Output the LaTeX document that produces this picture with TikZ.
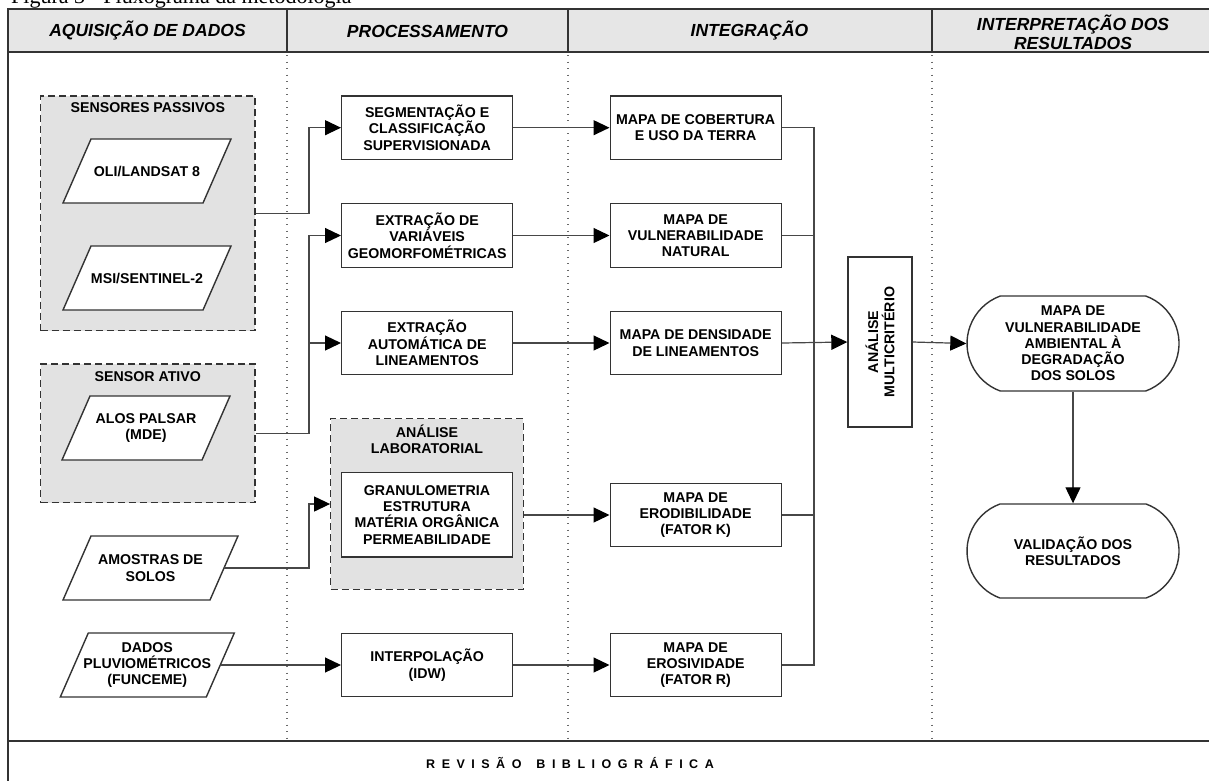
\documentclass[tikz,border=0pt]{standalone}
\usepackage{fontspec}
\setmainfont{Liberation Sans}
\newfontfamily\serifcap{Liberation Serif}
\usetikzlibrary{arrows.meta,calc,shapes.misc}
\definecolor{hdr}{HTML}{E6E6E6}
\definecolor{grp}{HTML}{E2E2E2}
\definecolor{linec}{HTML}{333333}
\definecolor{connc}{HTML}{474747}
\definecolor{dotc}{HTML}{6A6A6A}
\newcommand\lsp{\hspace{6.5pt}}
\newcommand\paranode[5]{% name, x, y, halfwidth, text
  \draw[parashape] (#2-#4+14,#3-32) -- (#2+#4+14,#3-32) -- (#2+#4-14,#3+32) -- (#2-#4-14,#3+32) -- cycle;
  \node[lbl, minimum width={2*#4pt}, minimum height=64pt] (#1) at (#2,#3) {#5};}
\tikzset{
  lbl/.style={font=\bfseries\fontsize{14.2}{16.3}\selectfont, align=center, text=black, inner sep=0pt},
  box/.style={lbl, draw=linec, line width=1.4pt, fill=white, minimum width=171pt, minimum height=63.5pt},
  parashape/.style={draw=linec, line width=1.4pt, fill=white, line join=miter},
  group/.style={draw=linec, line width=1.2pt, dash pattern=on 7pt off 4pt, fill=grp},
  stad/.style={lbl, draw=linec, line width=1.4pt, fill=white, shape=rounded rectangle, rounded rectangle arc length=140, minimum width=212pt, minimum height=95pt},
  hdrtxt/.style={font=\bfseries\itshape\fontsize{17.5}{19}\selectfont, align=center, inner sep=0pt},
  frame/.style={draw=linec, line width=1.4pt},
  dotline/.style={draw=dotc, line width=1.3pt, dash pattern=on 1.3pt off 5.2pt},
  conn/.style={draw=connc, line width=1.2pt},
  arr/.style={conn, -{Triangle[length=16pt,width=15pt,color=black]}},
}
\begin{document}
\begin{tikzpicture}[x=1pt,y=-1pt]
\useasboundingbox (0,0) rectangle (1209,780);
\clip (0,0) rectangle (1209,780);
% caption (cut off at the top, as in the source)
\node[anchor=base west, font=\serifcap\fontsize{22}{24}\selectfont, inner sep=0pt] (cap) at (11,3) {Figura 3 - Fluxograma da metodologia};
% header and frame
\fill[hdr] (8,9) rectangle (1215,52);
\draw[frame] (1215,9) -- (8,9) -- (8,790);
\draw[frame] (8,52) -- (1215,52);
\draw[frame] (8,741) -- (1215,741);
\foreach \x in {287,568,932} {
  \draw[frame] (\x,9) -- (\x,52);
  \draw[dotline] (\x,55) -- (\x,741);
}
\node[hdrtxt] (h1) at (147.5,31) {AQUISIÇÃO DE DADOS};
\node[hdrtxt] (h2) at (427.5,31) {PROCESSAMENTO};
\node[hdrtxt] (h3) at (749.5,31) {INTEGRAÇÃO};
\node[hdrtxt] (h4) at (1073,32) {INTERPRETAÇÃO DOS\\RESULTADOS};
\node[font=\bfseries\fontsize{12.5}{14}\selectfont, inner sep=0pt] (rev) at (570,763)
  {R\lsp E\lsp V\lsp I\lsp S\lsp Ã\lsp O\hspace{15pt}B\lsp I\lsp B\lsp L\lsp I\lsp O\lsp G\lsp R\lsp Á\lsp F\lsp I\lsp C\lsp A};
% acquisition groups
\node[group, minimum width=214.3pt, minimum height=234.7pt] (sp) at (147.8,213.3) {};
\node[lbl] (spl) at (147.8,108) {SENSORES PASSIVOS};
\paranode{oli}{147}{171}{70}{OLI/LANDSAT 8}
\paranode{msi}{147}{278}{70}{MSI/SENTINEL-2}
\node[group, minimum width=214.3pt, minimum height=138.7pt] (sa) at (147.8,433.3) {};
\node[lbl] (sal) at (147.8,376.7) {SENSOR ATIVO};
\paranode{alos}{146}{428}{70}{ALOS PALSAR\\(MDE)}
\paranode{am}{150.5}{568}{73.5}{AMOSTRAS DE\\SOLOS}
\paranode{dp}{147.3}{665}{73}{DADOS\\PLUVIOMÉTRICOS\\(FUNCEME)}
% processing
\node[box] (seg) at (427.2,127.7) {SEGMENTAÇÃO E\\CLASSIFICAÇÃO\\SUPERVISIONADA};
\node[box] (geo) at (427.2,235.5) {EXTRAÇÃO DE\\VARIÁVEIS\\GEOMORFOMÉTRICAS};
\node[box] (lin) at (427.2,343) {EXTRAÇÃO\\AUTOMÁTICA DE\\LINEAMENTOS};
\node[group, minimum width=192.6pt, minimum height=170.3pt] (lab) at (427,504) {};
\node[lbl] (labl) at (427,439.2) {ANÁLISE\\LABORATORIAL};
\node[box, minimum height=84.7pt] (gran) at (427,514.7) {GRANULOMETRIA\\ESTRUTURA\\MATÉRIA ORGÂNICA\\PERMEABILIDADE};
\node[box] (ip) at (427.2,665) {INTERPOLAÇÃO\\(IDW)};
% integration
\node[box] (cob) at (695.7,127.7) {MAPA DE COBERTURA\\E USO DA TERRA};
\node[box] (vn) at (695.7,235.5) {MAPA DE\\VULNERABILIDADE\\NATURAL};
\node[box] (dl) at (695.7,343) {MAPA DE DENSIDADE\\DE LINEAMENTOS};
\node[box] (ero) at (695.7,515) {MAPA DE\\ERODIBILIDADE\\(FATOR K)};
\node[box] (erv) at (695.7,665) {MAPA DE\\EROSIVIDADE\\(FATOR R)};
\node[box, minimum width=64pt, minimum height=170pt] (mc) at (880,342) {};
\node[lbl, rotate=90] (mct) at (mc.center) {ANÁLISE\\MULTICRITÉRIO};
% interpretation
\node[stad] (vul) at (1073,343.5) {MAPA DE\\VULNERABILIDADE\\AMBIENTAL À\\DEGRADAÇÃO\\DOS SOLOS};
\node[stad, minimum height=94pt] (val) at (1073,551) {VALIDAÇÃO DOS\\RESULTADOS};
% connectors
\coordinate (busL) at (309,0);
\coordinate (busR) at (814,0);
\draw[arr] (sp.east) -| (busL |- seg.west) -- (seg.west);
\draw[arr] (sa.east) -| (busL |- geo.west) -- (geo.west);
\draw[arr] (busL |- lin.west) -- (lin.west);
\draw[arr] (am.east) -| (busL |- lab.west) -- (lab.west);
\draw[arr] (dp.east) -- (ip.west);
\draw[arr] (seg.east) -- (cob.west);
\draw[arr] (geo.east) -- (vn.west);
\draw[arr] (lin.east) -- (dl.west);
\draw[arr] (lab.east |- ero.west) -- (ero.west);
\draw[arr] (ip.east) -- (erv.west);
\draw[conn] (cob.east) -| (busR |- erv.east) -- (erv.east);
\draw[conn] (vn.east) -- (busR |- vn.east);
\draw[conn] (ero.east) -- (busR |- ero.east);
\draw[arr] (dl.east) -- (mc.west);
\draw[arr] (mc.east) -- (vul.west);
\draw[arr] (vul.south) -- (val.north);
\end{tikzpicture}
\end{document}
